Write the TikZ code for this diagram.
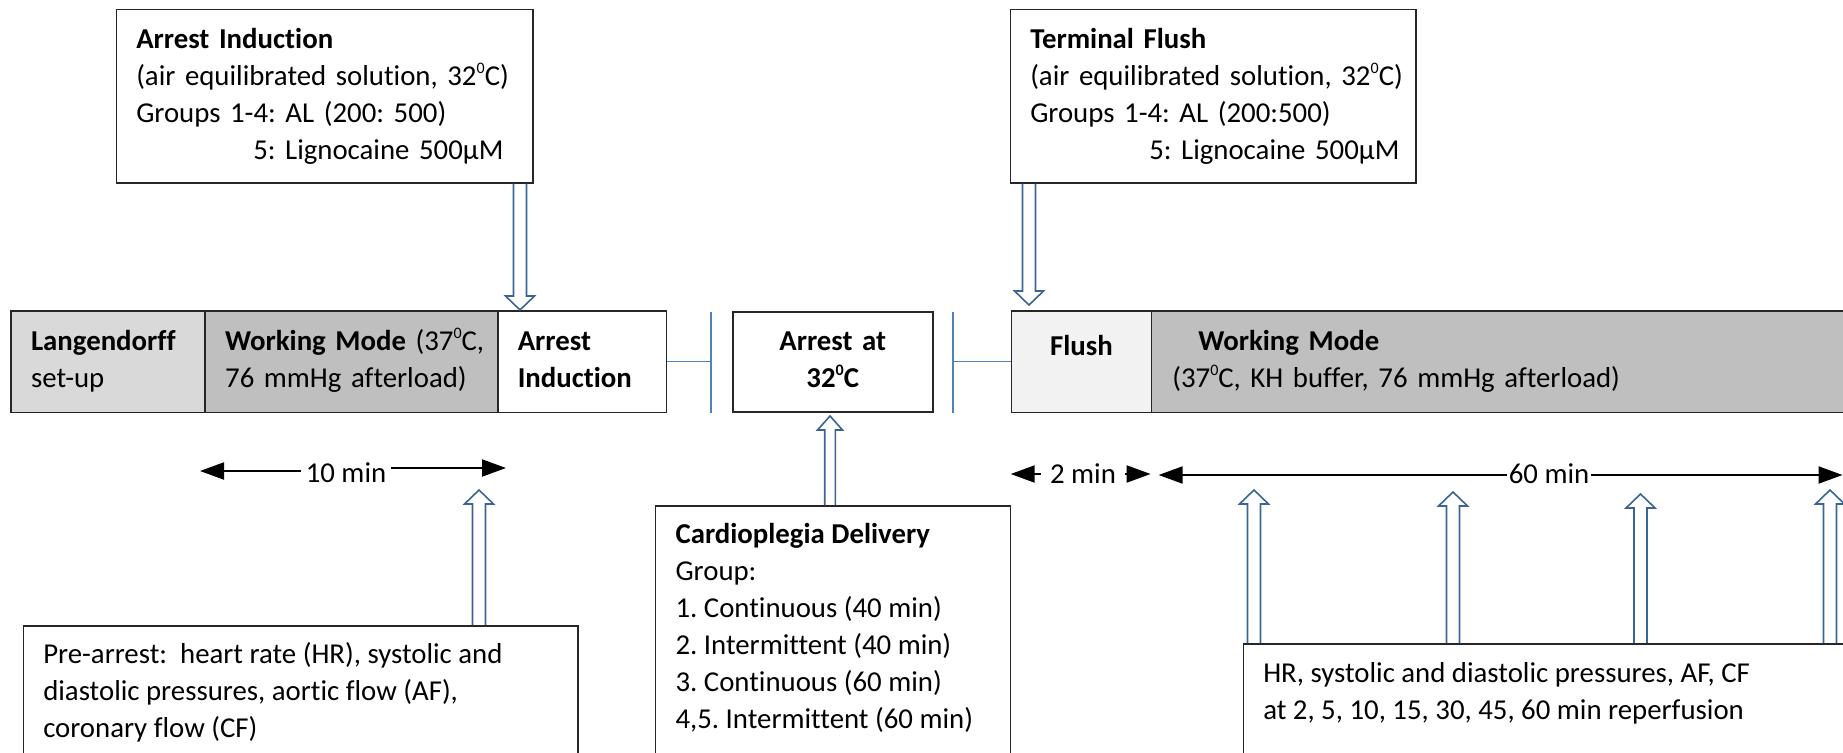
\documentclass[tikz,border=0pt]{standalone}
\usepackage{fontspec}
\setmainfont{Carlito}[Ligatures=NoCommon]
\usetikzlibrary{arrows.meta,calc}
\frenchspacing
\newcommand\myfs{\fontsize{28.8pt}{37pt}\selectfont}
\newcommand\sdeg{\raisebox{12pt}{\fontsize{16pt}{16pt}\selectfont 0}}
\newcommand\oneline[1]{\mbox{\strut#1}}
\definecolor{boxline}{HTML}{262626}
\definecolor{hollowblue}{HTML}{3A6496}
\definecolor{linkblue}{HTML}{4F81BD}
\definecolor{lgray}{HTML}{D9D9D9}
\definecolor{mgray}{HTML}{BFBFBF}
\definecolor{vlgray}{HTML}{F2F2F2}
\tikzset{
  box/.style={draw=boxline, line width=1.5pt, font=\myfs, inner xsep=20pt, inner ysep=0pt,
    anchor=north west, align=left},
  lowbox/.style={draw=boxline, line width=1.5pt, font=\myfs, inner xsep=20pt,
    anchor=north west},
  hollow/.style={draw=hollowblue, line width=1.6pt, line join=miter},
  linkline/.style={draw=linkblue, line width=1.8pt},
  dim/.style={line width=2pt, -{Triangle[length=24pt,width=17pt]}},
  dlabel/.style={font=\myfs, inner ysep=0pt}
}
\newcommand\blockup[4]{\draw[hollow] let \p1=(#1), \p2=(#2) in
  (\x2-#3,\y1) -- (\x2-#3,\y2-14pt) -- (\x2-#4,\y2-14pt) -- (\x2,\y2)
  -- (\x2+#4,\y2-14pt) -- (\x2+#3,\y2-14pt) -- (\x2+#3,\y1);}
\newcommand\blockdown[4]{\draw[hollow] let \p1=(#1), \p2=(#2) in
  (\x2-#3,\y1) -- (\x2-#3,\y2+14pt) -- (\x2-#4,\y2+14pt) -- (\x2,\y2)
  -- (\x2+#4,\y2+14pt) -- (\x2+#3,\y2+14pt) -- (\x2+#3,\y1);}
\begin{document}
\begin{tikzpicture}[x=1pt,y=-1pt]
\useasboundingbox (0,0) rectangle (1843,752);
\clip (0,0) rectangle (1843,752);

% top boxes
\node[box, text width=376.5pt, minimum height=173pt] (topAI) at (115.5,9)
  {\oneline{\textbf{Arrest Induction}}\\
   \oneline{(air equilibrated solution, 32\sdeg C)}\\
   \oneline{Groups 1-4: AL (200: 500)}\\
   \oneline{\hspace*{117pt}5: Lignocaine 500µM}};
\node[box, text width=365.5pt, minimum height=173pt] (topTF) at (1009.5,9)
  {\oneline{\textbf{Terminal Flush}}\\
   \oneline{(air equilibrated solution, 32\sdeg C)}\\
   \oneline{Groups 1-4: AL (200:500)}\\
   \oneline{\hspace*{119pt}5: Lignocaine 500µM}};

% timeline row
\node[box, fill=lgray, text width=154pt, minimum height=101.5pt] (lang) at (10.3,310)
  {\oneline{\textbf{Langendorff}}\\ \oneline{set-up}};
\node[box, fill=mgray, text width=252.6pt, minimum height=101.5pt] (wmL) at (204.4,310)
  {\oneline{\textbf{Working Mode} (37\sdeg C,}\\ \oneline{76 mmHg afterload)}};
\node[box, fill=white, text width=128.5pt, minimum height=101.5pt] (arrInd) at (497,310)
  {\oneline{\textbf{Arrest}}\\ \oneline{\textbf{Induction}}};
\node[box, fill=white, align=center, text width=160pt, minimum height=100pt] (arr32) at (732,311)
  {\oneline{\textbf{Arrest at}}\\ \oneline{\textbf{32\sdeg C}}};
\node[box, fill=vlgray, align=center, minimum width=140pt, minimum height=101.5pt] (flush) at (1010.7,310)
  {\raisebox{13.4pt}[25.9pt][11.1pt]{\textbf{Flush}}};
\node[box, fill=mgray, inner xsep=21pt, text width=649.9pt, minimum height=101.5pt] (wmR) at (1150.6,310)
  {\oneline{\hspace*{26pt}\textbf{Working Mode}}\\
   \oneline{(37\sdeg C, KH buffer, 76 mmHg afterload)}};

% bottom boxes
\node[lowbox, inner ysep=12.1pt] (pre) at (22.5,625)
  {\parbox[t][250pt][t]{514.5pt}{\strut Pre-arrest:\ \ heart rate (HR), systolic and\\
   diastolic pressures, aortic flow (AF),\\ coronary flow (CF)}};
\node[lowbox, inner ysep=12.1pt] (cardio) at (654.8,505)
  {\parbox[t][300pt][t]{314.7pt}{\strut\textbf{Cardioplegia Delivery}\\ Group:\\
   1. Continuous (40 min)\\ 2. Intermittent (40 min)\\ 3. Continuous (60 min)\\
   4,5. Intermittent (60 min)}};
\node[lowbox, inner ysep=13.1pt] (hr) at (1242.5,643)
  {\parbox[t][250pt][t]{560pt}{\strut HR, systolic and diastolic pressures, AF, CF\\
   at 2, 5, 10, 15, 30, 45, 60 min reperfusion}};

% blue link lines
\coordinate (b1t) at (711,312); \coordinate (b1b) at (711,413);
\coordinate (b2t) at (953,312); \coordinate (b2b) at (953,413);
\draw[linkline] (b1t) -- (b1b);
\draw[linkline] (arrInd.east) -- (arrInd.east -| b1t);
\draw[linkline] (b2t) -- (b2b);
\draw[linkline] (flush.west) -- (flush.west -| b2t);

% hollow arrows
\coordinate (tAI) at (520,310);
\coordinate (tTF) at (1029,305);
\coordinate (tCD) at (830,416);
\coordinate (tPA) at (479,490);
\coordinate (tH1) at (1254,490);
\coordinate (tH2) at (1453,492);
\coordinate (tH3) at (1640.5,494);
\coordinate (tH4) at (1830,490);
\blockdown{topAI.south}{tAI}{6.5pt}{14.5pt}
\blockdown{topTF.south}{tTF}{6.5pt}{14.5pt}
\blockup{cardio.north}{tCD}{5.3pt}{12.5pt}
\blockup{pre.north}{tPA}{6.5pt}{14.5pt}
\blockup{hr.north}{tH1}{6.5pt}{14.5pt}
\blockup{hr.north}{tH2}{6.5pt}{14.5pt}
\blockup{hr.north}{tH3}{6.5pt}{14.5pt}
\blockup{hr.north}{tH4}{6.5pt}{14.5pt}

% duration arrows
\node[dlabel, inner xsep=4.5pt] (l10) at (346,473) {10 min};
\coordinate (t10a) at (200,471); \coordinate (t10b) at (506,468);
\draw[dim] (l10.west |- t10a) -- (t10a);
\draw[dim] (l10.east |- t10b) -- (t10b);

\node[dlabel, inner xsep=9pt] (l2) at (1083,473.5) {2 min};
\coordinate (t2a) at (1010.7,474); \coordinate (t2b) at (1150.6,474);
\draw[dim] (l2.west |- t2a) -- (t2a);
\draw[dim] (l2.east |- t2b) -- (t2b);

\node[dlabel, inner xsep=2pt] (l60) at (1549,474) {60 min};
\coordinate (t60a) at (1158.6,475); \coordinate (t60b) at (1842.5,475);
\draw[dim] (l60.west |- t60a) -- (t60a);
\draw[dim] (l60.east |- t60b) -- (t60b);
\end{tikzpicture}
\end{document}
